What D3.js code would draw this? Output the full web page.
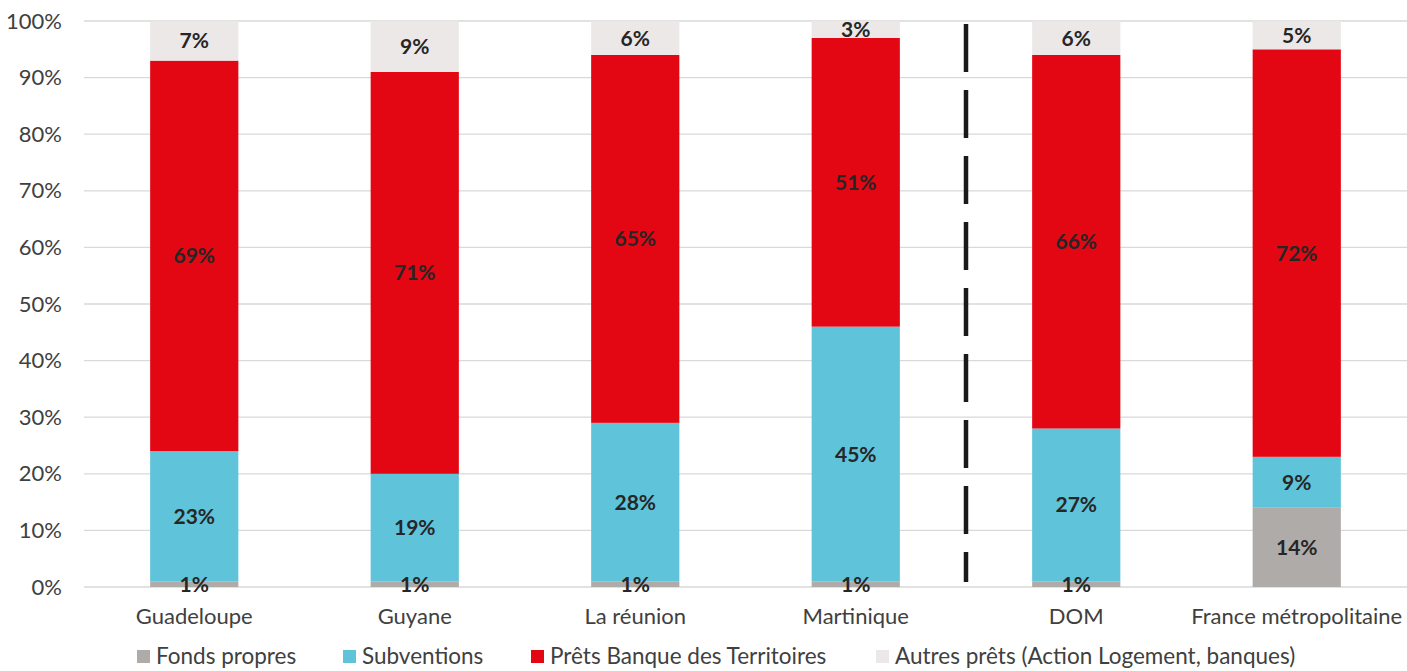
<!DOCTYPE html>
<html>
<head>
<meta charset="utf-8">
<script src="https://cdn.jsdelivr.net/npm/d3@7"></script>
<style>
  html, body { margin: 0; padding: 0; background: #fff; }
  svg { display: block; font-family: Lato, "Liberation Sans", sans-serif; }
</style>
</head>
<body>
<svg id="chart" width="1407" height="671"></svg>
<script>
// Financing structure by territory (share of total, %)
const categories = ["Guadeloupe", "Guyane", "La réunion", "Martinique", "DOM", "France métropolitaine"];
const seriesNames = ["Fonds propres", "Subventions", "Prêts Banque des Territoires", "Autres prêts (Action Logement, banques)"];
const fondsPropres = [1, 1, 1, 1, 1, 14];
const subventions  = [23, 19, 28, 45, 27, 9];
const pretsBdT     = [69, 71, 65, 51, 66, 72];
const autresPrets  = [7, 9, 6, 3, 6, 5];
const yTicks = [0, 10, 20, 30, 40, 50, 60, 70, 80, 90, 100];
const separatorAfter = "Martinique";

const colors = ["#AFABA8", "#5FC3DA", "#E30613", "#ECE8E8"];
const keys = ["fp", "sub", "bdt", "autres"];

const rows = categories.map((c, i) => ({
  cat: c, fp: fondsPropres[i], sub: subventions[i], bdt: pretsBdT[i], autres: autresPrets[i]
}));

const svg = d3.select("#chart");
const margin = { left: 84, right: 0 };
const W = 1407;

const x = d3.scaleBand().domain(categories).range([margin.left, W - margin.right]).paddingInner(0.6).paddingOuter(0.3);
const y = d3.scaleLinear().domain([0, 100]).range([587, 21]);

// Gridlines
svg.append("g").selectAll("line").data(yTicks).join("line")
  .attr("x1", margin.left).attr("x2", W)
  .attr("y1", d => y(d)).attr("y2", d => y(d))
  .attr("stroke", "#D9D9D9").attr("stroke-width", 1.3);

// Y axis labels
const yAxis = d3.axisLeft(y).tickValues(yTicks).tickFormat(d => d + "%").tickSize(0).tickPadding(22);
const gy = svg.append("g").attr("transform", `translate(${margin.left},0)`).call(yAxis);
gy.select(".domain").remove();
gy.selectAll("text").attr("font-size", 22).attr("fill", "#404040")
  .attr("font-family", "Lato, 'Liberation Sans', sans-serif");

// Stacked bars
const stacked = d3.stack().keys(keys)(rows);

const layers = svg.append("g").selectAll("g").data(stacked).join("g")
  .attr("fill", (d, i) => colors[i]);
layers.selectAll("rect").data(d => d).join("rect")
  .attr("x", d => x(d.data.cat))
  .attr("width", x.bandwidth())
  .attr("y", d => y(d[1]))
  .attr("height", d => y(d[0]) - y(d[1]));

// Value labels, centred in each segment
const labels = svg.append("g");
stacked.forEach(layer => {
  layer.forEach(d => {
    const v = d[1] - d[0];
    labels.append("text")
      .attr("x", x(d.data.cat) + x.bandwidth() / 2)
      .attr("y", (y(d[0]) + y(d[1])) / 2)
      .attr("dy", "0.36em")
      .attr("text-anchor", "middle")
      .attr("font-size", 21)
      .attr("font-weight", "bold")
      .attr("fill", "#262626")
      .text(v + "%");
  });
});

// Category axis labels
const xAxis = d3.axisBottom(x).tickSize(0).tickPadding(21);
const gx = svg.append("g").attr("transform", `translate(0,${y(0)})`).call(xAxis);
gx.select(".domain").remove();
gx.selectAll("text").attr("font-size", 22).attr("fill", "#404040")
  .attr("font-family", "Lato, 'Liberation Sans', sans-serif");

// Dashed separator between territories and aggregates
const iSep = categories.indexOf(separatorAfter);
const sepX = (x(categories[iSep]) + x.bandwidth() + x(categories[iSep + 1])) / 2;
svg.append("line")
  .attr("x1", sepX).attr("x2", sepX)
  .attr("y1", y(100) + 3).attr("y2", y(0) - 5)
  .attr("stroke", "#1A1A1A").attr("stroke-width", 4.5)
  .attr("stroke-dasharray", "48,18");

// Legend
const legendX = [137, 343, 531, 876];
const legend = svg.append("g");
seriesNames.forEach((name, i) => {
  legend.append("rect").attr("x", legendX[i]).attr("y", 650).attr("width", 13).attr("height", 13).attr("fill", colors[i]);
  legend.append("text").attr("x", legendX[i] + 19).attr("y", 656).attr("dy", "0.36em")
    .attr("font-size", 22.5).attr("fill", "#404040").text(name);
});
</script>
</body>
</html>
